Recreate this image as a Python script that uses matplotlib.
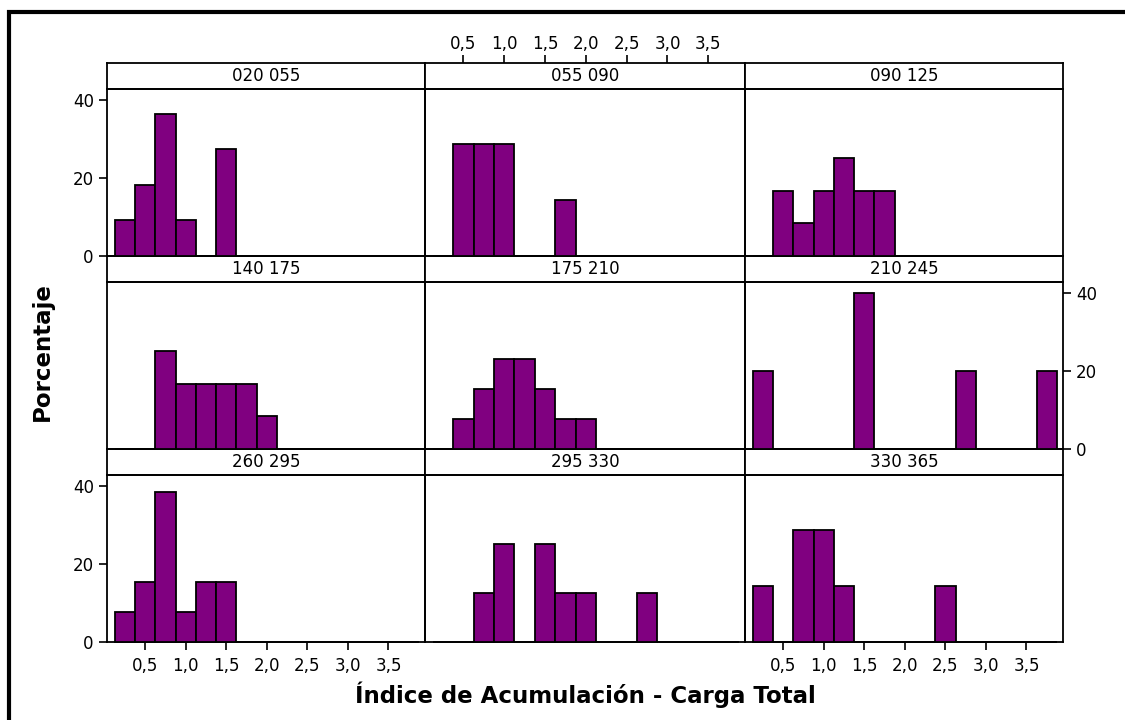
import matplotlib
matplotlib.use("Agg")
import matplotlib.pyplot as plt
from matplotlib.lines import Line2D

W, H = 1125, 720

# histogram bin midpoints (width 0.25)
mids = [0.25, 0.5, 0.75, 1.0, 1.25, 1.5, 1.75, 2.0,
        2.25, 2.5, 2.75, 3.0, 3.25, 3.5, 3.75]

panel_names = ["020 055", "055 090", "090 125",
               "140 175", "175 210", "210 245",
               "260 295", "295 330", "330 365"]

# percentage of observations per bin, one list per panel
p_020_055 = [9.09, 18.18, 36.36, 9.09, 0, 27.27, 0, 0, 0, 0, 0, 0, 0, 0, 0]
p_055_090 = [0, 28.57, 28.57, 28.57, 0, 0, 14.29, 0, 0, 0, 0, 0, 0, 0, 0]
p_090_125 = [0, 16.67, 8.33, 16.67, 25.0, 16.67, 16.67, 0, 0, 0, 0, 0, 0, 0, 0]
p_140_175 = [0, 0, 25.0, 16.67, 16.67, 16.67, 16.67, 8.33, 0, 0, 0, 0, 0, 0, 0]
p_175_210 = [0, 7.69, 15.38, 23.08, 23.08, 15.38, 7.69, 7.69, 0, 0, 0, 0, 0, 0, 0]
p_210_245 = [20.0, 0, 0, 0, 0, 40.0, 0, 0, 0, 0, 20.0, 0, 0, 0, 20.0]
p_260_295 = [7.69, 15.38, 38.46, 7.69, 15.38, 15.38, 0, 0, 0, 0, 0, 0, 0, 0, 0]
p_295_330 = [0, 0, 12.5, 25.0, 0, 25.0, 12.5, 12.5, 0, 0, 12.5, 0, 0, 0, 0]
p_330_365 = [14.29, 0, 28.57, 28.57, 14.29, 0, 0, 0, 0, 14.29, 0, 0, 0, 0, 0]

panel_values = [p_020_055, p_055_090, p_090_125,
                p_140_175, p_175_210, p_210_245,
                p_260_295, p_295_330, p_330_365]

x_ticks = [0.5, 1.0, 1.5, 2.0, 2.5, 3.0, 3.5]
x_ticklabels = ["0,5", "1,0", "1,5", "2,0", "2,5", "3,0", "3,5"]
y_ticks = [0, 20, 40]

BAR = "#800080"
FS = 12

plt.rcParams["font.family"] = "DejaVu Sans"

fig = plt.figure(figsize=(W / 100, H / 100), dpi=100)


def px_axes(x0, y0, x1, y1):
    return fig.add_axes([x0 / W, 1 - y1 / H, (x1 - x0) / W, (y1 - y0) / H])


cols = [(107, 425), (425, 745), (745, 1063)]
strips = [(63, 89), (256, 282), (449, 475)]
plots = [(89, 256), (282, 449), (475, 642)]
x_lim = (0.03, 3.95)
y_lim = (0, 42.7)


def tidy(ax):
    ax.set_xlim(x_lim)
    ax.set_xticks([])
    ax.set_yticks([])
    for s in ax.spines.values():
        s.set_linewidth(1.3)
    ax.tick_params(direction="out", length=6, width=1.2, labelsize=FS)


# strip headers first so the plot panels sit on top
strip_axes = []
for r in range(3):
    for c in range(3):
        sa = px_axes(cols[c][0], strips[r][0], cols[c][1], strips[r][1])
        tidy(sa)
        sa.text(0.5, 0.5, panel_names[r * 3 + c], transform=sa.transAxes,
                ha="center", va="center", fontsize=FS)
        strip_axes.append(sa)

for r in range(3):
    for c in range(3):
        i = r * 3 + c
        ax = px_axes(cols[c][0], plots[r][0], cols[c][1], plots[r][1])
        tidy(ax)
        ax.set_ylim(y_lim)
        ax.set_facecolor("none")
        ax.bar(mids, panel_values[i], width=0.25, color=BAR,
               edgecolor="black", linewidth=1.3, clip_on=False, zorder=3)

        # alternating Minitab-style scales
        if c == 0 and r in (0, 2):
            ax.set_yticks(y_ticks)
            ax.tick_params(axis="y", pad=3.5)
        if c == 2 and r == 1:
            ax.yaxis.tick_right()
            ax.set_yticks(y_ticks)
            ax.tick_params(axis="y", pad=3.5)
        if r == 2 and c in (0, 2):
            ax.set_xticks(x_ticks)
            ax.set_xticklabels(x_ticklabels)
            ax.tick_params(axis="x", pad=5)

# top scale over the middle column header
top = strip_axes[1]
top.xaxis.tick_top()
top.set_xticks(x_ticks)
top.set_xticklabels(x_ticklabels)
top.tick_params(axis="x", pad=1.5)

fig.text(42 / W, 1 - 352 / H, "Porcentaje", rotation=90, ha="center",
         va="center", fontsize=16.5, fontweight="bold")
fig.text(585 / W, 1 - 695 / H, "Índice de Acumulación - Carga Total",
         ha="center", va="center", fontsize=16.5, fontweight="bold")

# heavy outer frame (top and left edges)
fig.add_artist(Line2D([9 / W, 9 / W, 1.0], [0.0, 1 - 12 / H, 1 - 12 / H],
                      transform=fig.transFigure, color="black", linewidth=3,
                      solid_joinstyle="miter"))

fig.savefig("out.png", dpi=100)
